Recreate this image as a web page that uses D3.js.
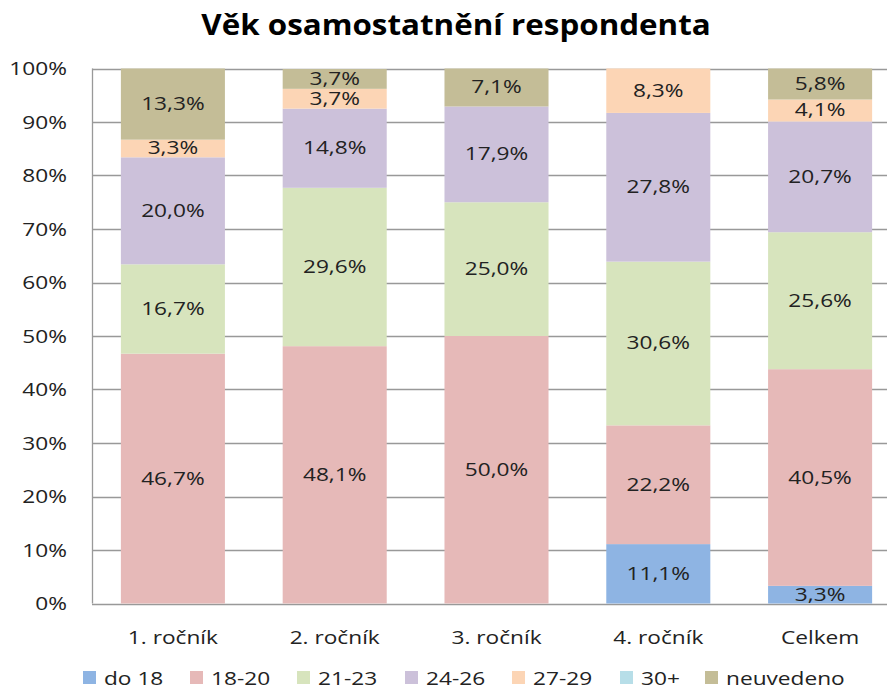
<!DOCTYPE html>
<html>
<head>
<meta charset="utf-8">
<script src="https://cdn.jsdelivr.net/npm/d3@7"></script>
<style>
  body { margin: 0; background: #fff; }
  svg { font-family: "Open Sans", sans-serif; }
</style>
</head>
<body>
<svg id="chart" width="887" height="690"></svg>
<script>
// categories and series (values in %)
const categories = ["1. ročník", "2. ročník", "3. ročník", "4. ročník", "Celkem"];
const seriesNames = ["do 18", "18-20", "21-23", "24-26", "27-29", "30+", "neuvedeno"];
const do18 =      [0,    0,    0,    11.1, 3.3];
const v18_20 =    [46.7, 48.1, 50.0, 22.2, 40.5];
const v21_23 =    [16.7, 29.6, 25.0, 30.6, 25.6];
const v24_26 =    [20.0, 14.8, 17.9, 27.8, 20.7];
const v27_29 =    [3.3,  3.7,  0,    8.3,  4.1];
const v30plus =   [0,    0,    0,    0,    0];
const neuvedeno = [13.3, 3.7,  7.1,  0,    5.8];
const yTicks = [0, 10, 20, 30, 40, 50, 60, 70, 80, 90, 100];

const seriesValues = [do18, v18_20, v21_23, v24_26, v27_29, v30plus, neuvedeno];
const colors = ["#8eb4e3", "#e6b9b8", "#d7e4bd", "#ccc1da", "#fcd5b5", "#b7dee8", "#c4bd97"];

// table for d3.stack
const table = categories.map((c, i) => {
  const row = { cat: c };
  seriesNames.forEach((s, j) => { row[s] = seriesValues[j][i]; });
  return row;
});

const svg = d3.select("#chart");
const sx = 1.26; // the reference text is drawn horizontally stretched

const x = d3.scaleBand()
  .domain(categories)
  .range([92, 901])
  .paddingInner(0.357)
  .paddingOuter(0.1785);

const y = d3.scaleLinear()
  .domain([0, 100])
  .range([603.5, 68.5]);

// title
svg.append("text")
  .attr("transform", `translate(456,35) scale(1.12,1)`)
  .attr("text-anchor", "middle")
  .style("font-size", "28px")
  .style("font-weight", "bold")
  .style("fill", "#000")
  .text("Věk osamostatnění respondenta");

// gridlines
svg.append("g")
  .selectAll("line")
  .data(yTicks)
  .enter()
  .append("line")
  .attr("x1", 92)
  .attr("x2", 901)
  .attr("y1", d => Math.round(y(d)) + 0.5)
  .attr("y2", d => Math.round(y(d)) + 0.5)
  .attr("stroke", "#999")
  .attr("stroke-width", 1.3);

// left axis line
svg.append("line")
  .attr("x1", 92.5).attr("x2", 92.5)
  .attr("y1", y(100)).attr("y2", y(0))
  .attr("stroke", "#999")
  .attr("stroke-width", 1.3);

// y tick labels
svg.append("g")
  .selectAll("text")
  .data(yTicks)
  .enter()
  .append("text")
  .attr("transform", d => `translate(67,${y(d) + 6.5}) scale(${sx},1)`)
  .attr("text-anchor", "end")
  .style("font-size", "18px")
  .style("fill", "#222")
  .text(d => d + "%");

// stacked bars
const stack = d3.stack().keys(seriesNames);
const layers = stack(table);

const layerG = svg.append("g")
  .selectAll("g")
  .data(layers)
  .enter()
  .append("g")
  .attr("fill", (d, i) => colors[i]);

layerG.selectAll("rect")
  .data(d => d)
  .enter()
  .append("rect")
  .attr("x", d => x(d.data.cat))
  .attr("width", x.bandwidth())
  .attr("y", d => y(d[1]))
  .attr("height", d => y(d[0]) - y(d[1]));

// data labels
const fmt = v => v.toFixed(1).replace(".", ",") + "%";
layerG.selectAll("text")
  .data(d => d.filter(p => p[1] - p[0] > 0))
  .enter()
  .append("text")
  .attr("transform", d => `translate(${x(d.data.cat) + x.bandwidth() / 2},${(y(d[0]) + y(d[1])) / 2 + 6}) scale(${sx},1)`)
  .attr("text-anchor", "middle")
  .style("font-size", "18px")
  .style("fill", "#222")
  .text(d => fmt(d[1] - d[0]));

// category labels
svg.append("g")
  .selectAll("text")
  .data(categories)
  .enter()
  .append("text")
  .attr("transform", d => `translate(${x(d) + x.bandwidth() / 2},644) scale(${sx},1)`)
  .attr("text-anchor", "middle")
  .style("font-size", "18px")
  .style("fill", "#222")
  .text(d => d);

// legend
const legendX = [83, 190, 297, 405, 512, 620, 705];
const legend = svg.append("g")
  .selectAll("g")
  .data(seriesNames)
  .enter()
  .append("g")
  .attr("transform", (d, i) => `translate(${legendX[i]},671)`);

legend.append("rect")
  .attr("width", 13)
  .attr("height", 13)
  .attr("fill", (d, i) => colors[i]);

legend.append("text")
  .attr("transform", `translate(21,13.5) scale(${sx},1)`)
  .style("font-size", "18px")
  .style("fill", "#222")
  .text(d => d);
</script>
</body>
</html>
